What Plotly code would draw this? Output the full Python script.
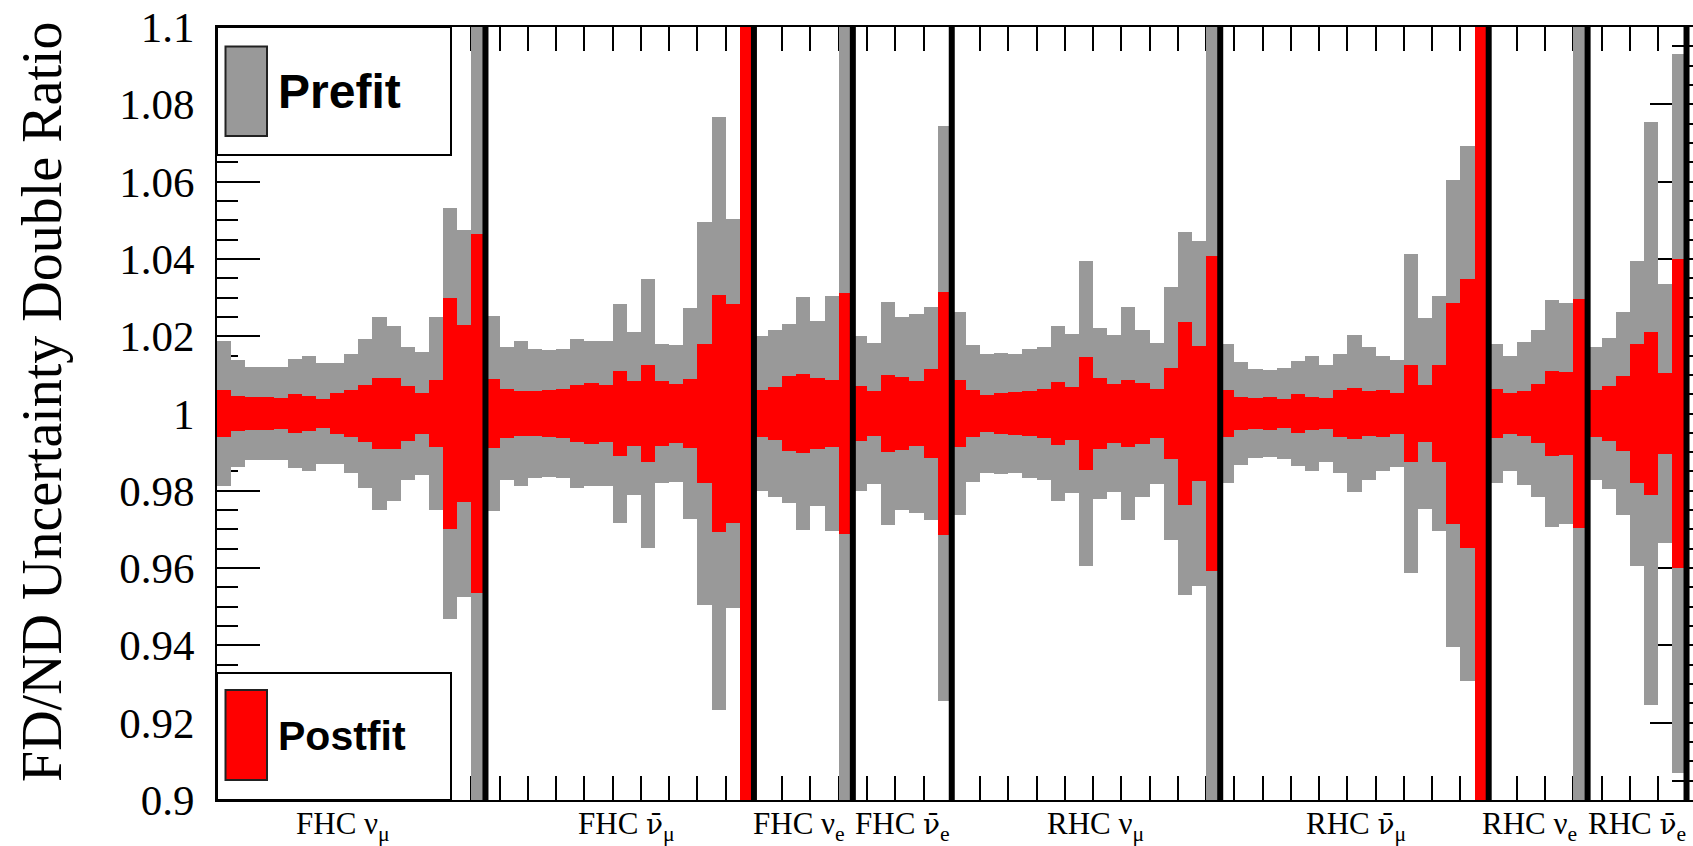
import plotly.graph_objects as go
import numpy as np

# ---------------- data ----------------
NUBAR = "<span style='font-family:DejaVu Serif;font-size:28px'>ν\u0304</span>"
section_labels = ["FHC ν<sub>μ</sub>", "FHC " + NUBAR + "<sub>μ</sub>", "FHC ν<sub>e</sub>", "FHC " + NUBAR + "<sub>e</sub>",
                  "RHC ν<sub>μ</sub>", "RHC " + NUBAR + "<sub>μ</sub>", "RHC ν<sub>e</sub>", "RHC " + NUBAR + "<sub>e</sub>"]
section_nbins = [19, 19, 7, 7, 19, 19, 7, 7]

# half-widths of the uncertainty band around 1 (bins per section)
prefit_fhc_numu = [0.0187, 0.0138, 0.0121, 0.0121, 0.0121, 0.0140, 0.0149, 0.0131, 0.0131, 0.0154,
                   0.0192, 0.0249, 0.0226, 0.0173, 0.0160, 0.0250, 0.0532, 0.0475, 0.12]
prefit_fhc_numubar = [0.0253, 0.0171, 0.0187, 0.0167, 0.0164, 0.0168, 0.0192, 0.0188, 0.0188, 0.0284,
                      0.0211, 0.0347, 0.0181, 0.0177, 0.0274, 0.0495, 0.0767, 0.0502, 0.12]
prefit_fhc_nue = [0.0200, 0.0216, 0.0231, 0.0302, 0.0240, 0.0304, 0.12]
prefit_fhc_nuebar = [0.0200, 0.0183, 0.0288, 0.0249, 0.0257, 0.0276, 0.0745]
prefit_rhc_numu = [0.0263, 0.0177, 0.0153, 0.0157, 0.0154, 0.0167, 0.0173, 0.0227, 0.0205, 0.0395,
                   0.0220, 0.0202, 0.0276, 0.0216, 0.0183, 0.0328, 0.0469, 0.0447, 0.12]
prefit_rhc_numubar = [0.0181, 0.0132, 0.0116, 0.0112, 0.0117, 0.0135, 0.0148, 0.0125, 0.0153, 0.0202,
                      0.0173, 0.0148, 0.0138, 0.0412, 0.0248, 0.0303, 0.0603, 0.0691, 0.12]
prefit_rhc_nue = [0.0181, 0.0150, 0.0186, 0.0217, 0.0293, 0.0286, 0.12]
prefit_rhc_nuebar = [0.0171, 0.0196, 0.0263, 0.0395, 0.0755, 0.0335, 0.0931]

postfit_fhc_numu = [0.0062, 0.0046, 0.0043, 0.0043, 0.0039, 0.0050, 0.0046, 0.0037, 0.0052, 0.0062,
                    0.0073, 0.0092, 0.0092, 0.0071, 0.0054, 0.0087, 0.0299, 0.0228, 0.0465]
postfit_fhc_numubar = [0.0088, 0.0064, 0.0058, 0.0058, 0.0061, 0.0064, 0.0073, 0.0080, 0.0073, 0.0110,
                       0.0085, 0.0125, 0.0085, 0.0076, 0.0090, 0.0180, 0.0306, 0.0284, 0.12]
postfit_fhc_nue = [0.0062, 0.0069, 0.0097, 0.0102, 0.0091, 0.0086, 0.0311]
postfit_fhc_nuebar = [0.0071, 0.0058, 0.0099, 0.0095, 0.0085, 0.0114, 0.0315]
postfit_rhc_numu = [0.0086, 0.0062, 0.0047, 0.0052, 0.0056, 0.0059, 0.0064, 0.0082, 0.0068, 0.0146,
                    0.0092, 0.0076, 0.0086, 0.0079, 0.0064, 0.0119, 0.0236, 0.0175, 0.0408]
postfit_rhc_numubar = [0.0060, 0.0043, 0.0041, 0.0043, 0.0037, 0.0050, 0.0043, 0.0041, 0.0060, 0.0066,
                       0.0058, 0.0062, 0.0052, 0.0125, 0.0073, 0.0125, 0.0287, 0.0349, 0.12]
postfit_rhc_nue = [0.0064, 0.0052, 0.0058, 0.0076, 0.0110, 0.0107, 0.0296]
postfit_rhc_nuebar = [0.0062, 0.0072, 0.0098, 0.0180, 0.0211, 0.0105, 0.0399]

ytick_vals = [0.9, 0.92, 0.94, 0.96, 0.98, 1.0, 1.02, 1.04, 1.06, 1.08, 1.1]
ytick_text = ["0.9", "0.92", "0.94", "0.96", "0.98", "1", "1.02", "1.04", "1.06", "1.08", "1.1"]

# label placement tweaks (layout, in bins relative to section centre)
label_shift = [-0.6, 0.5, -0.3, 0.0, 0.7, 0.1, -0.6, 0.0]

# ---------------- build ----------------
prefit = np.array(prefit_fhc_numu + prefit_fhc_numubar + prefit_fhc_nue + prefit_fhc_nuebar +
                  prefit_rhc_numu + prefit_rhc_numubar + prefit_rhc_nue + prefit_rhc_nuebar)
postfit = np.array(postfit_fhc_numu + postfit_fhc_numubar + postfit_fhc_nue + postfit_fhc_nuebar +
                   postfit_rhc_numu + postfit_rhc_numubar + postfit_rhc_nue + postfit_rhc_nuebar)
nbins = len(prefit)
xc = np.arange(nbins) + 0.5

GRAY = "#999999"
RED = "#ff0000"

fig = go.Figure()
fig.add_trace(go.Bar(x=xc, y=2 * prefit, base=1 - prefit, width=1.0,
                     marker=dict(color=GRAY, line=dict(width=0)), showlegend=False, hoverinfo="skip"))
fig.add_trace(go.Bar(x=xc, y=2 * postfit, base=1 - postfit, width=1.0,
                     marker=dict(color=RED, line=dict(width=0)), showlegend=False, hoverinfo="skip"))

W, H = 1693, 846
ML, MT, MB = 217, 27, 46
plot_w = W - ML
plot_h = H - MT - MB
bin_px = 14.13
xmax = plot_w / bin_px

def px2paper_x(px):
    return (px - ML) / plot_w

def px2paper_y(py):
    return (H - MB - py) / plot_h

shapes = []
edges = np.cumsum(section_nbins)
for e in edges:
    shapes.append(dict(type="line", xref="x", yref="y", x0=e, x1=e, y0=0.9, y1=1.1,
                       line=dict(color="black", width=6), layer="above"))

# legend boxes
shapes.append(dict(type="rect", xref="paper", yref="paper",
                   x0=px2paper_x(217), x1=px2paper_x(451), y0=px2paper_y(155), y1=px2paper_y(27),
                   fillcolor="white", line=dict(color="black", width=2), layer="above"))
shapes.append(dict(type="rect", xref="paper", yref="paper",
                   x0=px2paper_x(225.5), x1=px2paper_x(267), y0=px2paper_y(136), y1=px2paper_y(46.5),
                   fillcolor=GRAY, line=dict(color="#222222", width=2), layer="above"))
shapes.append(dict(type="rect", xref="paper", yref="paper",
                   x0=px2paper_x(217), x1=px2paper_x(451), y0=px2paper_y(800), y1=px2paper_y(673),
                   fillcolor="white", line=dict(color="black", width=2), layer="above"))
shapes.append(dict(type="rect", xref="paper", yref="paper",
                   x0=px2paper_x(225.5), x1=px2paper_x(267), y0=px2paper_y(780), y1=px2paper_y(690),
                   fillcolor=RED, line=dict(color="#222222", width=2), layer="above"))

annotations = []
annotations.append(dict(text="<b>Prefit</b>", xref="paper", yref="paper", x=px2paper_x(276), y=px2paper_y(91),
                        xanchor="left", yanchor="middle", showarrow=False,
                        font=dict(family="Liberation Sans, Arial", size=48, color="black")))
annotations.append(dict(text="<b>Postfit</b>", xref="paper", yref="paper", x=px2paper_x(276), y=px2paper_y(736),
                        xanchor="left", yanchor="middle", showarrow=False,
                        font=dict(family="Liberation Sans, Arial", size=41, color="black")))
annotations.append(dict(text="FD/ND Uncertainty Double Ratio", xref="paper", yref="paper",
                        x=px2paper_x(42), y=px2paper_y(402), xanchor="center", yanchor="middle",
                        textangle=-90, showarrow=False,
                        font=dict(family="Liberation Serif, Times New Roman", size=56, color="black")))
starts = np.concatenate([[0], edges[:-1]])
for lab, s, n, dx in zip(section_labels, starts, section_nbins, label_shift):
    annotations.append(dict(text=lab, xref="x", yref="paper", x=s + n / 2 + dx, y=px2paper_y(826),
                            xanchor="center", yanchor="middle", showarrow=False,
                            font=dict(family="Liberation Serif, Times New Roman", size=31, color="black")))

fig.update_layout(
    width=W, height=H, autosize=False,
    margin=dict(l=ML, r=0, t=MT, b=MB, pad=0),
    paper_bgcolor="white", plot_bgcolor="white",
    barmode="overlay", bargap=0,
    shapes=shapes, annotations=annotations,
    showlegend=False,
)
fig.update_xaxes(range=[0, xmax], tickmode="linear", tick0=0, dtick=2,
                 ticks="inside", ticklen=24, tickwidth=2, tickcolor="black",
                 showticklabels=False, showline=True, linecolor="black", linewidth=2,
                 mirror="ticks", showgrid=False, zeroline=False, layer="below traces",
                 automargin=False, fixedrange=True)
fig.update_yaxes(range=[0.9, 1.1], tickmode="array", tickvals=ytick_vals, ticktext=ytick_text,
                 ticks="inside", ticklen=43, tickwidth=2, tickcolor="black",
                 minor=dict(tickmode="linear", tick0=0.9, dtick=0.005, ticks="inside",
                            ticklen=21, tickwidth=2, tickcolor="black", showgrid=False),
                 tickfont=dict(family="Liberation Serif, Times New Roman", size=43, color="black"),
                 ticklabelstandoff=12,
                 showline=True, linecolor="black", linewidth=2, mirror="ticks",
                 showgrid=False, zeroline=False, layer="below traces",
                 automargin=False, fixedrange=True)

fig.write_html("out.html")
